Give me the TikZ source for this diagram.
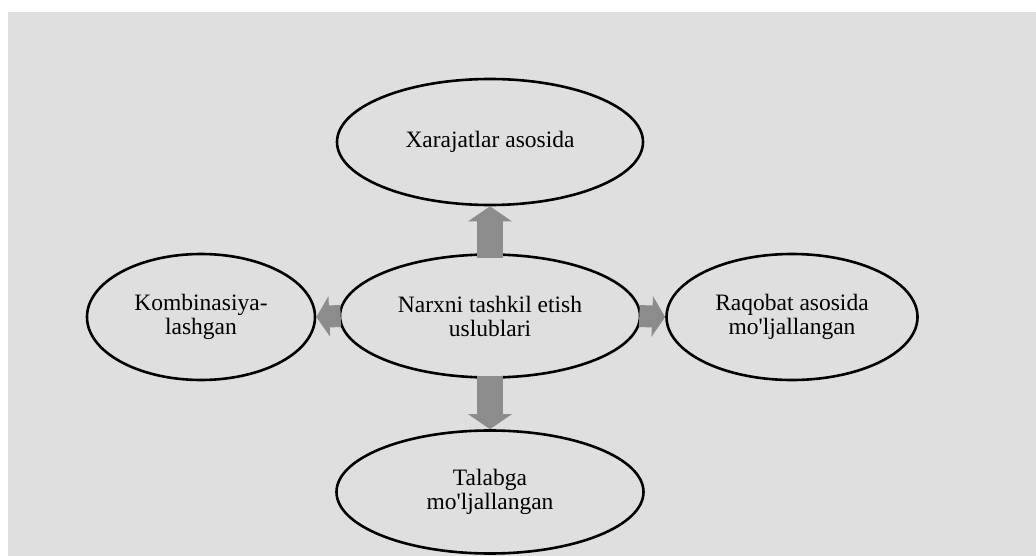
\documentclass[tikz,border=0pt]{standalone}
\usepackage{fontspec}
\setmainfont{Liberation Serif}
\usetikzlibrary{shapes.geometric,arrows.meta}
\definecolor{bggray}{HTML}{DFDFDF}
\definecolor{arrgray}{HTML}{8C8C8C}
\newcommand{\sq}{\XeTeXglyph\XeTeXcharglyph"0027\relax}
\begin{document}
\begin{tikzpicture}[x=1pt,y=-1pt,
    oval/.style={ellipse,draw=black,line width=2.6pt,inner sep=0pt,align=center,
      font=\fontsize{23.5}{24}\selectfont},
    vbig/.style={draw=arrgray,line width=26pt,-{Triangle[width=43pt,length=15pt]},arrgray},
    hbig/.style={draw=arrgray,line width=22pt,-{Triangle[width=40pt,length=13pt]},arrgray}]
      \useasboundingbox (0,0) rectangle (1036,556);
      \fill[bggray] (8,12) rectangle (1036,556);
      \node[oval,minimum width=306pt,minimum height=126pt] (top) at (490,142) {Xarajatlar asosida};
      \node[oval,minimum width=300pt,minimum height=123pt] (mid) at (490,316) {Narxni tashkil etish\\uslublari};
      \node[oval,minimum width=228pt,minimum height=126pt] (left) at (201,317) {Kombinasiya-\\lashgan};
      \node[oval,minimum width=251pt,minimum height=126pt] (right) at (792,317) {Raqobat asosida\\mo\sq ljallangan};
      \node[oval,minimum width=307pt,minimum height=123pt] (bot) at (490,492) {Talabga\\mo\sq ljallangan};
      \draw[vbig] ([yshift=-5pt]mid.north) -- (top.south);
      \draw[vbig] ([yshift=3pt]mid.south) -- (bot.north);
      \draw[hbig] ([xshift=2pt]mid.west) -- (left.east);
      \draw[hbig] ([xshift=-2pt]mid.east) -- (right.west);
    \end{tikzpicture}
\end{document}
